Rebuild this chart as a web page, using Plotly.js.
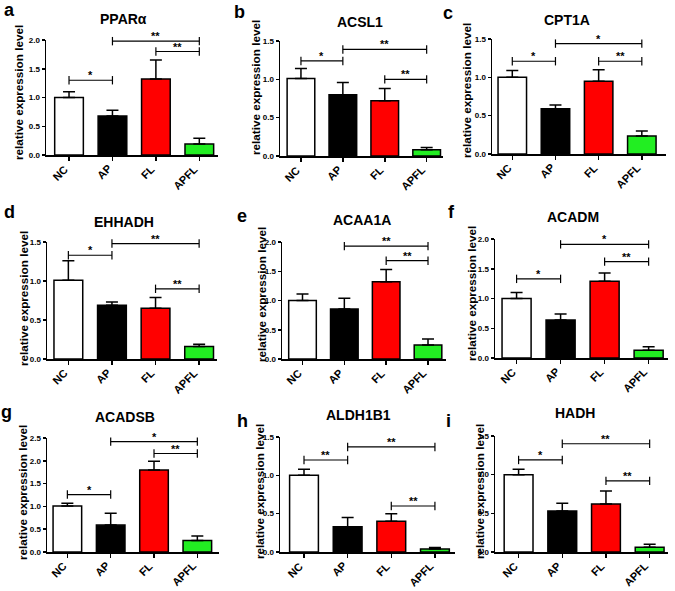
<!DOCTYPE html>
<html>
<head>
<meta charset="utf-8">
<script src="https://cdn.plot.ly/plotly-3.0.1.min.js"></script>
<style>html,body{margin:0;padding:0;background:#fff;}#chart{width:675px;height:591px;}</style>
</head>
<body>
<div id="chart"></div>
<script>
// ---------- data ----------
const categories = ['NC', 'AP', 'FL', 'APFL'];
const genes = ['PPARα', 'ACSL1', 'CPT1A', 'EHHADH', 'ACAA1A', 'ACADM', 'ACADSB', 'ALDH1B1', 'HADH'];
const panelLetters = ['a', 'b', 'c', 'd', 'e', 'f', 'g', 'h', 'i'];
const yMaxValues = [2.0, 1.5, 1.5, 1.5, 2.0, 2.0, 2.5, 1.5, 1.5];
const meanValues = [
  [1.00, 0.68, 1.32, 0.19],
  [1.01, 0.80, 0.72, 0.08],
  [1.00, 0.59, 0.95, 0.235],
  [1.01, 0.69, 0.65, 0.16],
  [1.00, 0.855, 1.32, 0.24],
  [1.00, 0.64, 1.29, 0.13],
  [1.01, 0.59, 1.80, 0.25],
  [1.00, 0.33, 0.40, 0.04],
  [1.00, 0.53, 0.62, 0.06]
];
const errorValues = [
  [0.10, 0.10, 0.33, 0.10],
  [0.13, 0.16, 0.16, 0.03],
  [0.09, 0.05, 0.15, 0.065],
  [0.25, 0.04, 0.14, 0.03],
  [0.11, 0.185, 0.21, 0.10],
  [0.10, 0.10, 0.14, 0.06],
  [0.06, 0.26, 0.19, 0.10],
  [0.08, 0.12, 0.10, 0.02],
  [0.07, 0.10, 0.17, 0.04]
];
// significance brackets: [fromIndex, toIndex, level, label]
const brackets = [
  [[0, 1, 1.30, '*'], [1, 3, 1.98, '**'], [2, 3, 1.80, '**']],
  [[0, 1, 1.24, '*'], [1, 3, 1.39, '**'], [2, 3, 1.00, '**']],
  [[0, 1, 1.21, '*'], [1, 3, 1.44, '*'], [2, 3, 1.21, '**']],
  [[0, 1, 1.33, '*'], [1, 3, 1.48, '**'], [2, 3, 0.90, '**']],
  [[1, 3, 1.93, '**'], [2, 3, 1.68, '**']],
  [[0, 1, 1.33, '*'], [1, 3, 1.91, '*'], [2, 3, 1.62, '**']],
  [[0, 1, 1.26, '*'], [1, 3, 2.42, '*'], [2, 3, 2.16, '**']],
  [[0, 1, 1.20, '**'], [1, 3, 1.37, '**'], [2, 3, 0.60, '**']],
  [[0, 1, 1.19, '*'], [1, 3, 1.40, '**'], [2, 3, 0.92, '**']]
];
const yAxisTitle = 'relative expression level';

// ---------- layout geometry (pixels) ----------
const W = 675, H = 591;
const barColors = ['#ffffff', '#000000', '#ff0000', '#22ee22'];
// [left, right, bottom, top] of plot area in px
const boxes = [
  [46, 218, 155, 40], [280, 443, 156, 41], [492, 666, 154, 39],
  [47, 217, 359, 242], [282, 446, 359, 242], [495, 668, 358, 239],
  [47, 219, 552, 438], [280, 455, 552, 437], [495, 668, 552, 436]
];
const xRanges = [
  [-0.53, 3.43], [-0.50, 3.39], [-0.47, 3.56],
  [-0.49, 3.41], [-0.49, 3.43], [-0.49, 3.44],
  [-0.47, 3.50], [-0.55, 3.46], [-0.54, 3.42]
];
const titlePos = [[123, 19], [360, 22], [567, 20], [124, 222], [362, 220], [573, 217], [125, 417], [358, 415], [575, 413]];
const letterPos = [[9, 10], [239, 12], [448, 13], [9, 212], [242, 216], [452, 212], [6, 412], [242, 421], [448, 421]];
const yTitlePos = [[18, 93], [256, 88], [467, 91], [23, 299], [261, 295], [472, 294], [22, 493], [259, 492], [479, 492]];

const FONT = 'Liberation Sans, Arial, sans-serif';
const traces = [];
const annotations = [];
const layout = {
  width: W, height: H,
  margin: {l: 0, r: 0, t: 0, b: 0},
  paper_bgcolor: '#ffffff', plot_bgcolor: '#ffffff',
  showlegend: false,
  font: {family: FONT, color: '#000000'}
};

const px2x = v => v / W;
const px2y = v => 1 - v / H;

genes.forEach((gene, k) => {
  const n = k + 1;
  const xa = 'x' + (n === 1 ? '' : n);
  const ya = 'y' + (n === 1 ? '' : n);
  const b = boxes[k];
  const r = xRanges[k];
  layout['xaxis' + (n === 1 ? '' : n)] = {
    domain: [px2x(b[0]), px2x(b[1])],
    range: r,
    anchor: ya,
    tickvals: [0, 1, 2, 3],
    showticklabels: false,
    ticks: 'outside', ticklen: 4, tickwidth: 1.5, tickcolor: '#000',
    showline: true, linewidth: 1.5, linecolor: '#000',
    showgrid: false, zeroline: false, fixedrange: true
  };
  layout['yaxis' + (n === 1 ? '' : n)] = {
    domain: [px2y(b[2]), px2y(b[3])],
    range: [0, yMaxValues[k]],
    anchor: xa,
    tick0: 0, dtick: 0.5, tickformat: '.1f',
    ticks: 'outside', ticklen: 3, tickwidth: 1.5, tickcolor: '#000',
    showline: true, linewidth: 1.5, linecolor: '#000',
    showgrid: false, zeroline: false, fixedrange: true,
    tickfont: {family: FONT, size: 8, weight: 'bold', color: '#000'}
  };

  traces.push({
    type: 'bar', xaxis: xa, yaxis: ya,
    x: [0, 1, 2, 3], y: meanValues[k], width: 0.66,
    marker: {color: barColors, line: {color: '#000', width: 1.5}},
    error_y: {type: 'data', array: errorValues[k], arrayminus: [0, 0, 0, 0], symmetric: false,
              color: '#000', thickness: 1.5, width: 6},
    hoverinfo: 'skip'
  });

  // rotated category labels (paper-referenced, end at each tick)
  categories.forEach((c, i) => {
    const tickPx = b[0] + (i - r[0]) / (r[1] - r[0]) * (b[1] - b[0]);
    annotations.push({
      xref: 'paper', yref: 'paper', x: px2x(tickPx + 4), y: px2y(b[2] + 5),
      text: c, showarrow: false, textangle: -45,
      xanchor: 'right', yanchor: 'top',
      font: {family: FONT, size: 11, weight: 'bold', color: '#000'}
    });
  });

  brackets[k].forEach(br => {
    traces.push({
      type: 'scatter', mode: 'lines+markers', xaxis: xa, yaxis: ya,
      x: [br[0], br[1]], y: [br[2], br[2]],
      line: {color: '#000', width: 1.2},
      marker: {symbol: 'line-ns-open', size: 6, color: '#000', line: {color: '#000', width: 1.2}},
      cliponaxis: false, hoverinfo: 'skip'
    });
    annotations.push({
      xref: xa, yref: ya, x: (br[0] + br[1]) / 2, y: br[2],
      text: br[3], showarrow: false, xanchor: 'center', yanchor: 'bottom', yshift: -3,
      font: {family: FONT, size: 11, weight: 'bold', color: '#000'}
    });
  });

  annotations.push({
    xref: 'paper', yref: 'paper', x: px2x(titlePos[k][0]), y: px2y(titlePos[k][1]),
    text: gene, showarrow: false, xanchor: 'center', yanchor: 'middle',
    font: {family: FONT, size: 14, weight: 'bold', color: '#000'}
  });
  annotations.push({
    xref: 'paper', yref: 'paper', x: px2x(letterPos[k][0]), y: px2y(letterPos[k][1]),
    text: panelLetters[k], showarrow: false, xanchor: 'center', yanchor: 'middle',
    font: {family: FONT, size: 18, weight: 'bold', color: '#000'}
  });
  annotations.push({
    xref: 'paper', yref: 'paper', x: px2x(yTitlePos[k][0]), y: px2y(yTitlePos[k][1]),
    text: yAxisTitle, showarrow: false, xanchor: 'center', yanchor: 'middle', textangle: -90,
    font: {family: FONT, size: 11.7, weight: 'bold', color: '#000'}
  });
});

layout.annotations = annotations;
Plotly.newPlot('chart', traces, layout, {displayModeBar: false, staticPlot: true});
</script>
</body>
</html>
